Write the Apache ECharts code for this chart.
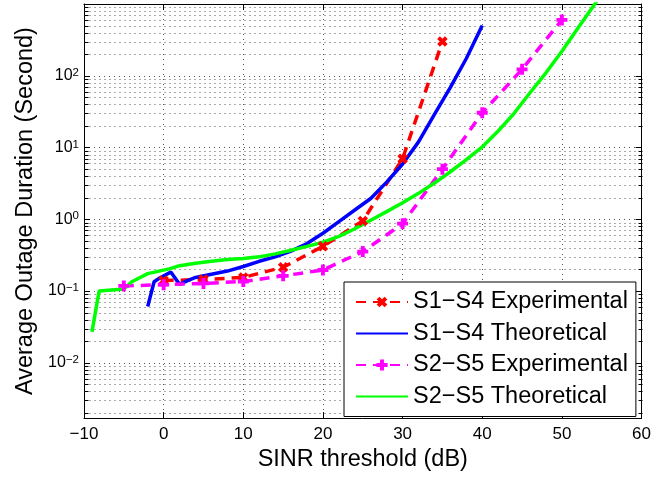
<!DOCTYPE html>
<html><head><meta charset="utf-8">
<script src="https://cdn.jsdelivr.net/npm/echarts@6/dist/echarts.min.js"></script>
<style>html,body{margin:0;padding:0;background:#fff}#c{width:654px;height:477px}</style>
</head><body><div id="c"></div>
<script>
// ---- data ----
const s14ExpX = [0, 5, 10, 15, 20, 25, 30, 35];
const s14ExpY = [0.14, 0.145, 0.155, 0.215, 0.42, 0.95, 7, 300];

const s14TheoX = [-2, -1.2, -0.5, 0.9, 2, 3, 4, 6, 8, 10, 12, 14, 16, 18, 20, 22, 24, 26, 28, 30, 32, 34, 36, 38, 40];
const s14TheoY = [0.061, 0.135, 0.152, 0.184, 0.124, 0.14, 0.155, 0.172, 0.19, 0.22, 0.26, 0.30, 0.36, 0.46, 0.64, 0.93, 1.35, 1.95, 3.3, 5.9, 12, 29, 69, 174, 500];

const s25ExpX = [-5, 0, 5, 10, 15, 20, 25, 30, 35, 40, 45, 50];
const s25ExpY = [0.118, 0.123, 0.128, 0.136, 0.163, 0.197, 0.355, 0.87, 5, 30.5, 123, 600];

const s25TheoX = [-9, -8.1, -5, -4, -2, 0.7, 2, 4, 6, 8, 10, 12, 14, 16, 18, 20, 22, 24, 26, 28, 30, 32, 34, 36, 38, 40, 42, 44, 46, 48, 50, 52, 54, 56];
const s25TheoY = [0.027, 0.1, 0.107, 0.135, 0.175, 0.204, 0.226, 0.245, 0.26, 0.275, 0.285, 0.30, 0.33, 0.37, 0.42, 0.48, 0.58, 0.74, 0.97, 1.28, 1.7, 2.3, 3.2, 4.6, 6.8, 10.2, 17, 30, 58, 110, 220, 460, 950, 2000];

const seriesNames = ['S1\u2212S4 Experimental', 'S1\u2212S4 Theoretical', 'S2\u2212S5 Experimental', 'S2\u2212S5 Theoretical'];
const yMinorTicks = [
  0.002, 0.003, 0.004, 0.005, 0.006, 0.007, 0.008, 0.009,
  0.02, 0.03, 0.04, 0.05, 0.06, 0.07, 0.08, 0.09,
  0.2, 0.3, 0.4, 0.5, 0.6, 0.7, 0.8, 0.9,
  2, 3, 4, 5, 6, 7, 8, 9,
  20, 30, 40, 50, 60, 70, 80, 90,
  200, 300, 400, 500, 600, 700, 800, 900
];
const yLabelledExponents = [-2, -1, 0, 1, 2];
const xMin = -10, xMax = 60, yMin = 0.0017, yMax = 1000;

// ---- chart ----
const F = '"Liberation Sans", Arial, Helvetica, sans-serif';
const zip = (xs, ys) => xs.map((x, i) => [x, ys[i]]);
const plusPath = 'path://M3.25,0h3.5v3.25h3.25v3.5h-3.25v3.25h-3.5v-3.25h-3.25v-3.5h3.25z';
const minus = s => String(s).replace('-', '\u2212');

const chart = echarts.init(document.getElementById('c'), null, {renderer: 'canvas'});
const tickStyle = {color: '#000', width: 1};
const gridDot = {color: '#555', width: 1, type: [1, 4]};

chart.setOption({
  animation: false,
  backgroundColor: '#fff',
  grid: {left: 84, right: 9, top: 4, bottom: 53, containLabel: false},
  legend: {
    data: [
      {name: seriesNames[0]},
      {name: seriesNames[1], itemStyle: {opacity: 0}},
      {name: seriesNames[2]},
      {name: seriesNames[3], itemStyle: {opacity: 0}}
    ],
    orient: 'vertical',
    left: 344, top: 282,
    backgroundColor: '#fff',
    borderColor: '#000', borderWidth: 1,
    padding: [8, 8, 8, 11],
    itemWidth: 52, itemHeight: 14, itemGap: 7.5,
    textStyle: {fontFamily: F, fontSize: 23.5, color: '#000', lineHeight: 24},
    selectedMode: false
  },
  xAxis: [{
    type: 'value', min: xMin, max: xMax, interval: 10, position: 'bottom',
    axisLine: {show: true, onZero: false, lineStyle: tickStyle},
    axisTick: {show: true, inside: true, length: 6, lineStyle: tickStyle},
    axisLabel: {color: '#000', fontFamily: F, fontSize: 17, margin: 8, formatter: v => minus(v)},
    splitLine: {show: true, lineStyle: gridDot},
    name: 'SINR threshold (dB)', nameLocation: 'middle', nameGap: 28,
    nameTextStyle: {fontFamily: F, fontSize: 23.5, color: '#000'}
  }, {
    type: 'value', min: xMin, max: xMax, interval: 10, position: 'top',
    axisLine: {show: true, onZero: false, lineStyle: tickStyle},
    axisTick: {show: true, inside: true, length: 6, lineStyle: tickStyle},
    axisLabel: {show: false}, splitLine: {show: false}
  }],
  yAxis: [{
    type: 'log', logBase: 10, min: yMin, max: yMax, position: 'left',
    axisLine: {show: true, onZero: false, lineStyle: tickStyle},
    axisTick: {show: true, inside: true, length: 6, lineStyle: tickStyle},
    axisLabel: {
      margin: 5,
      formatter: v => {
        const e = Math.log10(v), r = Math.round(e);
        if (Math.abs(e - r) > 1e-6 || yLabelledExponents.indexOf(r) < 0) return '';
        return '{b|10}{s|' + minus(r) + '}';
      },
      rich: {
        b: {fontFamily: F, fontSize: 16, color: '#000', lineHeight: 18, padding: [7, 0, 7, 0]},
        s: {fontFamily: F, fontSize: 11.5, color: '#000', lineHeight: 12, verticalAlign: 'top'}
      }
    },
    splitLine: {show: true, lineStyle: gridDot},
    name: 'Average Outage Duration (Second)', nameLocation: 'middle', nameGap: 46,
    nameTextStyle: {fontFamily: F, fontSize: 23.5, color: '#000'}
  }, {
    type: 'log', logBase: 10, min: yMin, max: yMax, position: 'right',
    axisLine: {show: true, onZero: false, lineStyle: tickStyle},
    axisTick: {show: true, inside: true, length: 6, lineStyle: tickStyle},
    axisLabel: {show: false}, splitLine: {show: false}
  }],
  series: [{
    type: 'custom', name: 'minor', silent: true, z: 1,
    xAxisIndex: 0, yAxisIndex: 0,
    data: yMinorTicks.map(v => [xMin, v]),
    encode: {x: 0, y: 1},
    renderItem: (params, api) => {
      const v = api.value(1);
      const l = api.coord([xMin, v]);
      const r = api.coord([xMax, v]);
      const y = Math.round(l[1]) + 0.5;
      const lx = Math.round(l[0]) + 0.5, rx = Math.round(r[0]) + 0.5;
      return {type: 'group', children: [
        {type: 'line', shape: {x1: lx, y1: y, x2: rx, y2: y}, style: {stroke: '#555', lineWidth: 1, lineDash: [1, 4]}},
        {type: 'line', shape: {x1: lx, y1: y, x2: lx + 4, y2: y}, style: {stroke: '#000', lineWidth: 1}},
        {type: 'line', shape: {x1: rx - 4, y1: y, x2: rx, y2: y}, style: {stroke: '#000', lineWidth: 1}}
      ]};
    }
  }, {
    name: seriesNames[0], type: 'line', z: 3,
    data: zip(s14ExpX, s14ExpY),
    symbol: plusPath, symbolRotate: 45, symbolSize: 11, showSymbol: true,
    itemStyle: {color: '#ff0000'},
    lineStyle: {color: '#ff0000', width: 3.5, type: [10, 7]}
  }, {
    name: seriesNames[1], type: 'line', z: 3,
    data: zip(s14TheoX, s14TheoY),
    symbol: 'none', smooth: false,
    itemStyle: {color: '#0000ff'},
    lineStyle: {color: '#0000ff', width: 3.5}
  }, {
    name: seriesNames[2], type: 'line', z: 3,
    data: zip(s25ExpX, s25ExpY),
    symbol: plusPath, symbolSize: 11, showSymbol: true,
    itemStyle: {color: '#ff00ff'},
    lineStyle: {color: '#ff00ff', width: 3.5, type: [10, 7]}
  }, {
    name: seriesNames[3], type: 'line', z: 3,
    data: zip(s25TheoX, s25TheoY),
    symbol: 'none',
    itemStyle: {color: '#00ff00'},
    lineStyle: {color: '#00ff00', width: 3.5}
  }]
});
</script></body></html>
